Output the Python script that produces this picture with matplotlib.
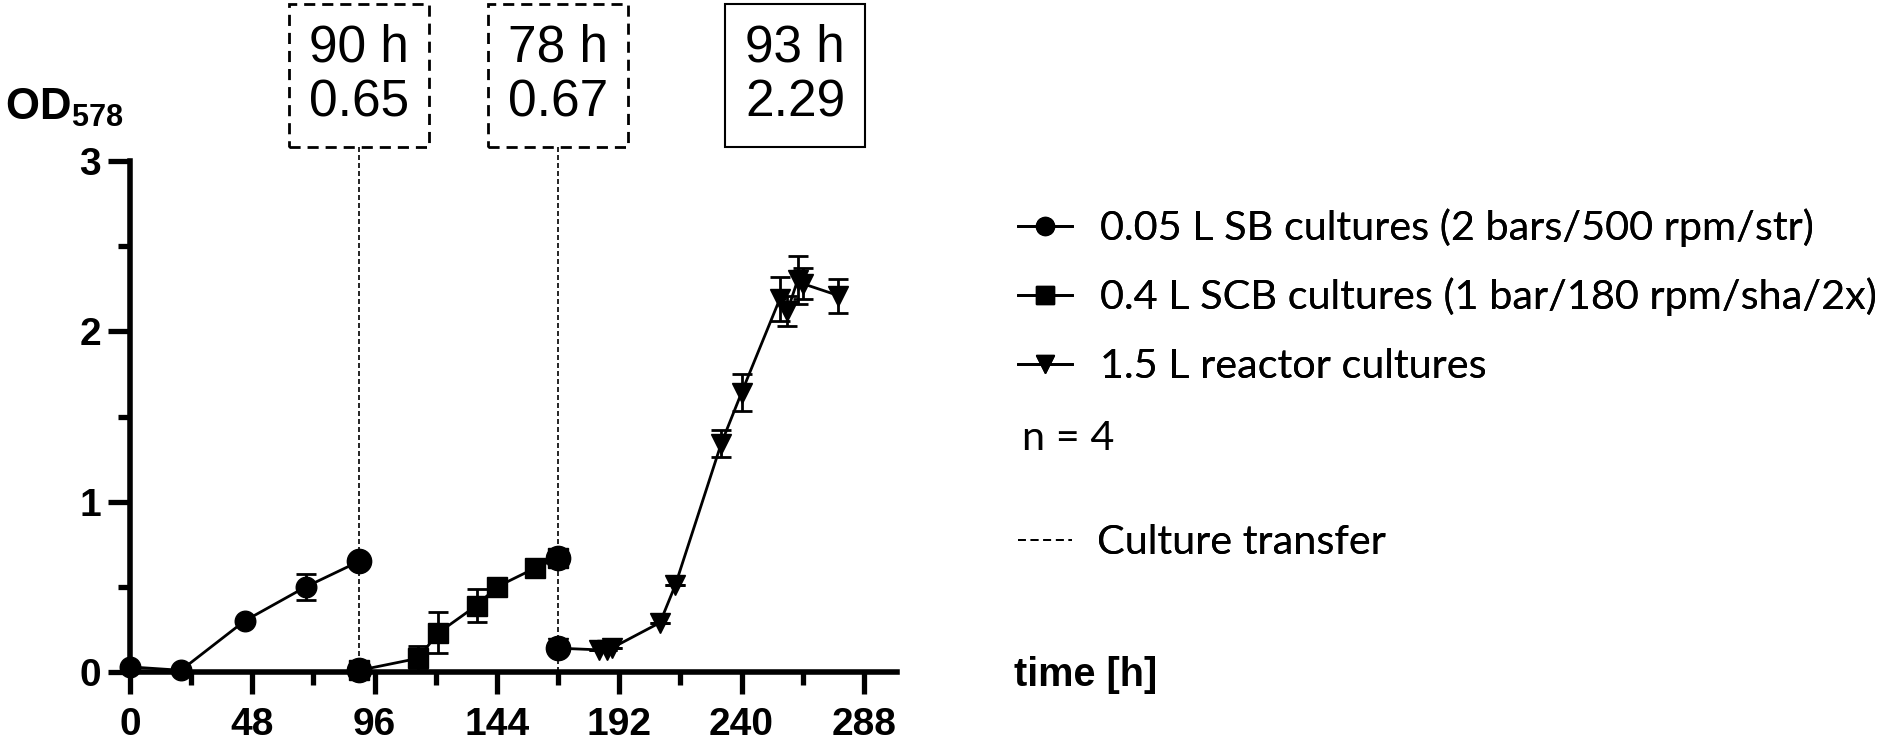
import matplotlib
matplotlib.use("Agg")
import matplotlib.pyplot as plt
from matplotlib.lines import Line2D
from matplotlib.patches import Rectangle
from matplotlib.ticker import MultipleLocator

plt.rcParams['mathtext.fontset'] = 'custom'
plt.rcParams['mathtext.rm'] = 'Liberation Sans'
plt.rcParams['mathtext.bf'] = 'Liberation Sans:bold'

# ---------------- data ----------------
sb_time = [0, 20, 45, 69, 90]
sb_od = [0.03, 0.01, 0.30, 0.50, 0.65]
sb_err = [0, 0, 0, 0.075, 0]

scb_time = [90, 113, 121, 136, 144, 159, 168]
scb_od = [0.01, 0.08, 0.23, 0.39, 0.50, 0.61, 0.67]
scb_err = [0, 0.07, 0.12, 0.095, 0, 0, 0]

reactor_time = [168, 184, 187, 189, 208, 214, 232, 240, 255, 258, 262, 264, 278]
reactor_od = [0.14, 0.13, 0.13, 0.14, 0.29, 0.51, 1.34, 1.64, 2.19, 2.12, 2.30, 2.28, 2.21]
reactor_err = [0, 0, 0, 0, 0, 0, 0.08, 0.11, 0.13, 0.09, 0.14, 0.09, 0.10]

transfer_times = [90, 168]
box_times = [90, 168, 261]
box_labels = ["90 h\n0.65", "78 h\n0.67", "93 h\n2.29"]
box_linestyles = ["dashed", "dashed", "solid"]

legend_labels = ["0.05 L SB cultures (2 bars/500 rpm/str)",
                 "0.4 L SCB cultures (1 bar/180 rpm/sha/2x)",
                 "1.5 L reactor cultures"]
n_label = "n = 4"
transfer_label = "Culture transfer"

x_ticks = [0, 48, 96, 144, 192, 240, 288]
y_ticks = [0, 1, 2, 3]
x_label = "time [h]"
y_label = r"$\mathbf{OD}_{\mathbf{578}}$"

# ---------------- figure ----------------
W, H = 1902, 746
fig = plt.figure(figsize=(W / 100, H / 100), dpi=100)
ax_left, ax_right, ax_bottom, ax_top = 130, 897, 672, 161
ax = fig.add_axes([ax_left / W, (H - ax_bottom) / H,
                   (ax_right - ax_left) / W, (ax_bottom - ax_top) / H])
ax.set_xlim(0, 301)
ax.set_ylim(0, 3)

common = dict(color='black', lw=2.0, elinewidth=2.0, capsize=7, capthick=2.0,
              markersize=14.8, clip_on=False)
c1 = ax.errorbar(sb_time, sb_od, yerr=sb_err, fmt='-o', zorder=3, **common)
c2 = ax.errorbar(scb_time, scb_od, yerr=scb_err, fmt='-s', zorder=3, **common)
c3 = ax.errorbar(reactor_time, reactor_od, yerr=reactor_err, fmt='-v', zorder=3, **common)

# transfer points (larger circles)
tx = [sb_time[-1], scb_time[0], scb_time[-1], reactor_time[0]]
ty = [sb_od[-1], scb_od[0], scb_od[-1], reactor_od[0]]
ax.plot(tx, ty, 'o', color='black', markersize=17.5, zorder=5, clip_on=False)

box_bottom = 3.08
box_top = 3.92
box_w = 55
dash_vert = (0, (3, 1.8))
for t in transfer_times:
    ax.plot([t, t], [0, box_bottom], color='black', lw=1.2, linestyle=dash_vert,
            zorder=2, clip_on=False)

for t, lab, ls in zip(box_times, box_labels, box_linestyles):
    if ls == "dashed":
        rect = Rectangle((t - box_w / 2, box_bottom), box_w, box_top - box_bottom,
                         fill=False, ec='black', lw=2.0, linestyle=(0, (4, 2.5)),
                         clip_on=False)
    else:
        rect = Rectangle((t - box_w / 2, box_bottom), box_w, box_top - box_bottom,
                         fill=False, ec='black', lw=1.5, clip_on=False)
    ax.add_patch(rect)
    ax.text(t, (box_bottom + box_top) / 2, lab, ha='center', va='center',
            fontsize=37, linespacing=1.15,
            family=['Liberation Sans Narrow', 'Liberation Sans'])

# axes styling
for s in ['top', 'right']:
    ax.spines[s].set_visible(False)
for s in ['left', 'bottom']:
    ax.spines[s].set_linewidth(4.0)
ax.set_xticks(x_ticks)
ax.set_yticks(y_ticks)
ax.xaxis.set_minor_locator(MultipleLocator(24))
ax.yaxis.set_minor_locator(MultipleLocator(0.5))
ax.tick_params(which='major', length=16, width=3.8, direction='out')
ax.tick_params(which='minor', length=9, width=3.8, direction='out')
ax.tick_params(axis='x', which='major', pad=9)
ax.tick_params(axis='y', which='major', pad=5)
for lab in ax.get_xticklabels() + ax.get_yticklabels():
    lab.set_fontfamily('Liberation Sans')
    lab.set_fontweight('bold')
    lab.set_fontsize(28)

fig.text(1014 / W, (H - 686) / H, x_label, fontsize=28.5, fontweight='bold',
         family='Liberation Sans', va='baseline', ha='left')
fig.text(5 / W, (H - 120) / H, y_label, fontsize=31.5, va='baseline', ha='left')

# legend
leg_font = dict(family='Lato', size=29.8)
row_y = [228, 297, 367]
for cont, lab, yy in zip([c1, c2, c3], legend_labels, row_y):
    lg = fig.legend(handles=[cont.lines[0]], labels=[lab], loc='center left',
                    bbox_to_anchor=(1018 / W, (H - yy) / H), frameon=False,
                    prop=leg_font, borderpad=0, borderaxespad=0,
                    handlelength=1.3, handletextpad=0.68, markerscale=0.88)
    fig.add_artist(lg)

fig.text(1022 / W, (H - 438) / H, n_label, fontsize=29.8, family='Lato',
         va='center', ha='left')

tr_handle = Line2D([], [], color='black', lw=1.4, linestyle=(0, (4, 2.5)))
lg = fig.legend(handles=[tr_handle], labels=[transfer_label], loc='center left',
                bbox_to_anchor=(1018 / W, (H - 543) / H), frameon=False,
                prop=leg_font, borderpad=0, borderaxespad=0,
                handlelength=1.3, handletextpad=0.62)
fig.add_artist(lg)

fig.savefig("out.png", dpi=100)
